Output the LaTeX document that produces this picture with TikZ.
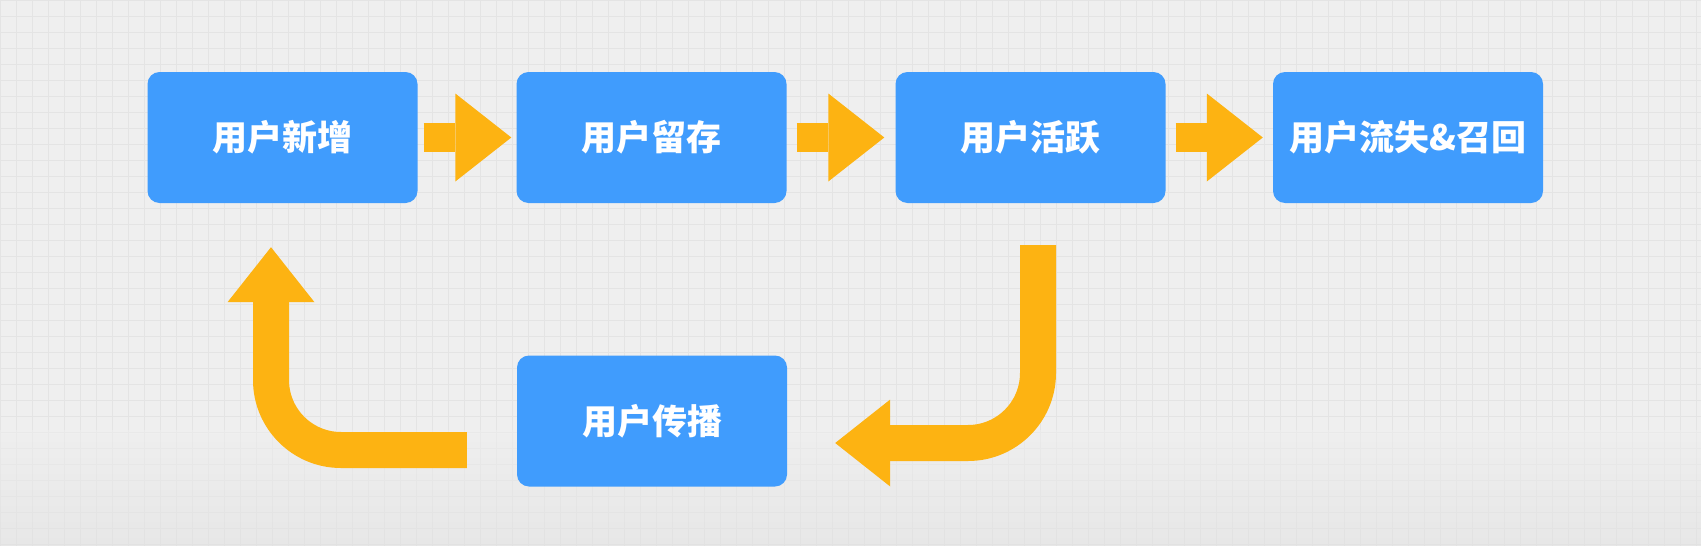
\documentclass[tikz,border=0pt]{standalone}
\usepackage{tikz, xcolor}
\usepackage{fontspec}
\newfontfamily\cjk{Noto Sans CJK SC}
\usetikzlibrary{shapes,arrows.meta}

\definecolor{boxblue}{HTML}{409CFD}
\definecolor{arrowyellow}{HTML}{FDB312}
\definecolor{paper}{HTML}{EFEFEF}
\definecolor{gridgray}{HTML}{E4E4E4}

\begin{document}
\begin{tikzpicture}[x=1pt, y=-1pt]
\tikzstyle{vertexb}=[rectangle, rounded corners=12pt, fill=boxblue, text=white, minimum width=270pt, minimum height=131pt, inner sep=0pt, font=\cjk\bfseries\fontsize{35}{41}\selectfont]
\tikzstyle{drawstyle}=[arrowyellow, line width=29pt, -{Triangle[length=56pt, width=88pt, line width=0pt]}]
\tikzstyle{drawstyleb}=[arrowyellow, line width=36pt, rounded corners=70pt, -{Triangle[length=55pt, width=87pt, line width=0pt]}]

\useasboundingbox (0,0) rectangle (1701,546);
\fill[paper] (0,0) rectangle (1701,546);
\draw[gridgray, line width=1pt, step=16pt] (0,0) grid (1701,546);
\shade[top color=paper, bottom color=black!12, opacity=0.5] (0,430) rectangle (1701,546);

\node[vertexb] (U0x0) at (282.5,137.5) {用户新增};
\node[vertexb] (U1x0) at (651.5,137.5) {用户留存};
\draw[drawstyle, shorten <=6pt, shorten >=5pt] (U0x0) -- (U1x0);
\node[vertexb] (U2x0) at (1030.5,137.5) {用户活跃};
\draw[drawstyle, shorten <=10pt, shorten >=11pt] (U1x0) -- (U2x0);
\node[vertexb] (U3x0) at (1408,137.5) {用户流失\&召回};
\draw[drawstyle, shorten <=10pt, shorten >=10pt] (U2x0) -- (U3x0);
\node[vertexb] (U1x1) at (652,421) {用户传播};
\draw[drawstyleb] ([xshift=7.5pt, yshift=-42pt]U2x0.south) |- ([xshift=48pt, yshift=-22pt]U1x1.east);
\draw[drawstyleb] ([xshift=-50pt, yshift=-29pt]U1x1.west) -| ([xshift=-11.5pt, yshift=-44pt]U0x0.south);
\end{tikzpicture}
\end{document}
